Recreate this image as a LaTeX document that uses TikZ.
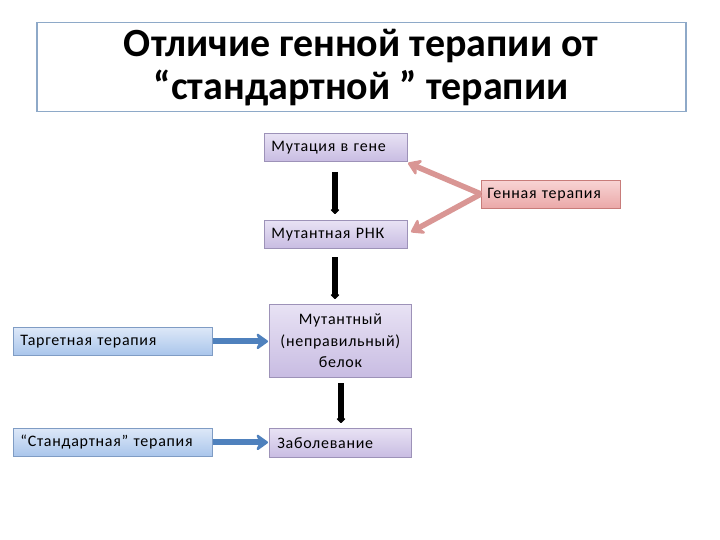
\documentclass[tikz,border=0pt]{standalone}
\usepackage{fontspec}
\setmainfont{Carlito}
\usetikzlibrary{arrows.meta,calc}
\definecolor{titleframe}{HTML}{8EA9C8}
\definecolor{lavtop}{HTML}{E8E2F4}
\definecolor{lavbot}{HTML}{C8BCE2}
\definecolor{lavframe}{HTML}{9D92B8}
\definecolor{pinktop}{HTML}{F8D4D4}
\definecolor{pinkbot}{HTML}{EAA8A8}
\definecolor{pinkframe}{HTML}{C87C7A}
\definecolor{pinkarrow}{HTML}{D99694}
\definecolor{bluetop}{HTML}{DDE8F8}
\definecolor{bluebot}{HTML}{A9C5EB}
\definecolor{blueframe}{HTML}{7F9CC4}
\definecolor{bluearrow}{HTML}{4F81BD}
\newfontfamily\boxfont[LetterSpace=4.5,WordSpace=1.4]{Carlito}
\tikzset{
  base/.style={draw, line width=0.8pt, anchor=north west, inner sep=0pt, font=\boxfont\fontsize{16}{19}\selectfont},
  lav/.style={base, top color=lavtop, bottom color=lavbot, draw=lavframe},
  pnk/.style={base, top color=pinktop, bottom color=pinkbot, draw=pinkframe},
  blu/.style={base, top color=bluetop, bottom color=bluebot, draw=blueframe},
  blackarrow/.style={line width=6pt, -{Triangle[length=5pt,width=10pt,round]}},
  pinkarr/.style={line width=5.5pt, draw=pinkarrow, line join=round, -{Stealth[length=15pt,width=20pt,inset=5pt,round]}},
  bluearr/.style={line width=6pt, draw=bluearrow, -{Stealth[length=14pt,width=20pt,inset=5pt,round]}},
}
\begin{document}
\begin{tikzpicture}[x=1pt,y=-1pt]
\useasboundingbox[fill=white] (0,0) rectangle (720,540);
\node[draw=titleframe, line width=1.5pt, anchor=north west, minimum width=649pt, minimum height=89pt, inner sep=0pt,
  align=center, font=\fontsize{40}{43}\selectfont\bfseries] (title) at (36,22)
  {Отличие генной терапии от\\“стандартной ” терапии};

\node[lav, minimum width=143pt, minimum height=28pt, text width=129pt, align=left] (mut) at (264,133) {Мутация в гене};
\node[pnk, minimum width=139pt, minimum height=28pt, text width=127pt, align=left] (gen) at (481,180) {Генная терапия};
\node[lav, minimum width=143pt, minimum height=28pt, text width=129pt, align=left] (rnk) at (264,220) {Мутантная РНК};
\node[lav, minimum width=142pt, minimum height=73pt, text width=142pt, align=center, font=\boxfont\fontsize{16}{21.5}\selectfont] (bel) at (269,304) {Мутантный\\(неправильный)\\белок};
\node[lav, minimum width=142pt, minimum height=29pt, text width=126pt, align=left] (zab) at (269,428) {Заболевание};
\node[blu, minimum width=199pt, minimum height=28pt, text width=185pt, align=left] (tar) at (13,327) {Таргетная терапия};
\node[blu, minimum width=199pt, minimum height=28pt, text width=185pt, align=left] (std) at (13,428) {“Стандартная” терапия};

\coordinate (a1s) at (335,172);
\coordinate (a1e) at (335,214);
\coordinate (a2s) at (335,257);
\coordinate (a2e) at (335,299);
\coordinate (a3s) at (341,383);
\coordinate (a3e) at (341,423);
\coordinate (gl) at (481,194);
\coordinate (gu) at (408,163);
\coordinate (gd) at (411,232);
\draw[blackarrow] (a1s) -- (a1e);
\draw[blackarrow] (a2s) -- (a2e);
\draw[blackarrow] (a3s) -- (a3e);
\draw[pinkarr] (gl) -- (gu);
\draw[pinkarr] (gl) -- (gd);
\draw[bluearr] (tar.east) -- ([xshift=-1pt]tar.east -| bel.west);
\draw[bluearr] (std.east) -- ([xshift=-1pt]std.east -| zab.west);
\end{tikzpicture}
\end{document}
